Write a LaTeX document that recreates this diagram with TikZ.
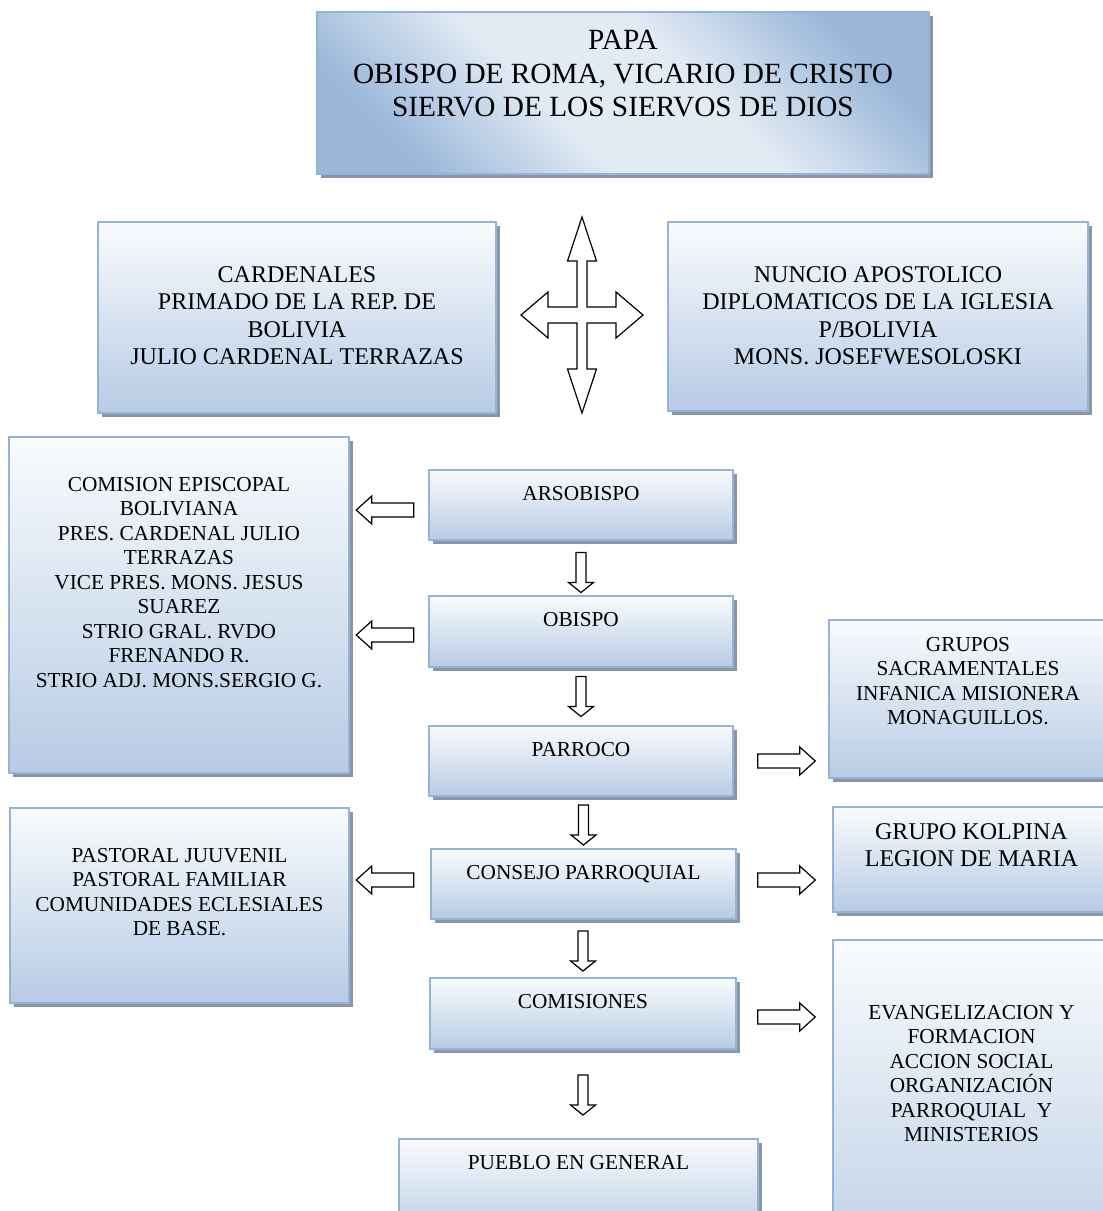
\documentclass[tikz,border=0pt]{standalone}
\usepackage{fontspec}
\setmainfont{Liberation Serif}
\usetikzlibrary{shadows,calc}
\definecolor{bordc}{RGB}{149,179,215}
\definecolor{topc}{RGB}{249,251,253}
\definecolor{botc}{RGB}{183,203,228}
\definecolor{shadc}{RGB}{138,150,168}
\definecolor{pdark}{RGB}{155,184,218}
\definecolor{plight}{RGB}{226,234,244}
\pgfdeclarehorizontalshading{papash}{100bp}{color(0bp)=(pdark); color(25bp)=(pdark); color(42bp)=(plight); color(58bp)=(plight); color(75bp)=(pdark); color(100bp)=(pdark)}
\begin{document}
\begin{tikzpicture}[x=1pt,y=-1pt,
  shad/.style={drop shadow={shadow xshift=4pt, shadow yshift=-4pt, fill=shadc, opacity=1}},
  box/.style={draw=bordc, line width=2pt, top color=topc, bottom color=botc, inner sep=0pt, shad},
  papabox/.style={draw=bordc, line width=2pt, shade, shading=papash, shading angle=45, inner sep=0pt, shad},
  txt/.style={anchor=north, inner sep=0pt, align=center, text=black},
  fA/.style={font=\fontsize{29.3}{33.6}\selectfont},
  fB/.style={font=\fontsize{24}{27.6}\selectfont},
  fC/.style={font=\fontsize{21.3}{24.5}\selectfont},
  blk/.style={draw=black, fill=white, line width=1.2pt, line join=miter},
  pics/harrow/.style={code={\draw[blk] (-28.75,-7) -- (13.25,-7) -- (13.25,-14) -- (28.75,0) -- (13.25,14) -- (13.25,7) -- (-28.75,7) -- cycle;}},
  pics/varrow/.style={code={\draw[blk] (-20,-5) -- (10,-5) -- (10,-12.5) -- (20,0) -- (10,12.5) -- (10,5) -- (-20,5) -- cycle;}}
]
\useasboundingbox (0,0) rectangle (1103,1211);
\clip (0,0) rectangle (1103,1211);

% boxes
\node[papabox, minimum width=612, minimum height=162] (papa) at (623,93) {};
\node[box, minimum width=398, minimum height=191] (card) at (297,317.5) {};
\node[box, minimum width=420, minimum height=189] (nunc) at (878,316.5) {};
\node[box, minimum width=340, minimum height=336] (cepi) at (179,605) {};
\node[box, minimum width=304, minimum height=70] (arso) at (581,505) {};
\node[box, minimum width=304, minimum height=71] (obis) at (581,631.5) {};
\node[box, minimum width=304, minimum height=70] (parr) at (581,761) {};
\node[box, minimum width=305, minimum height=70] (cons) at (583.5,884) {};
\node[box, minimum width=306, minimum height=71] (comi) at (583,1013.5) {};
\node[box, minimum width=359, minimum height=101] (pueb) at (578.5,1189.5) {};
\node[box, minimum width=278, minimum height=158] (grup) at (968,699) {};
\node[box, minimum width=277, minimum height=105] (kolp) at (971.5,859.5) {};
\node[box, minimum width=277, minimum height=360] (evan) at (971.5,1120) {};
\node[box, minimum width=339, minimum height=195] (past) at (179.5,905.5) {};

% texts
\node[txt, fA] (t-papa) at ($(papa.north)+(0,19)$) {PAPA\\OBISPO DE ROMA, VICARIO DE CRISTO\\SIERVO DE LOS SIERVOS DE DIOS};
\node[txt, fB] (t-card) at ($(card.north)+(0,45)$) {CARDENALES\\PRIMADO DE LA REP. DE\\BOLIVIA\\JULIO CARDENAL TERRAZAS};
\node[txt, fB] (t-nunc) at ($(nunc.north)+(0,45)$) {NUNCIO APOSTOLICO\\DIPLOMATICOS DE LA IGLESIA\\P/BOLIVIA\\MONS. JOSEFWESOLOSKI};
\node[txt, fC] (t-cepi) at ($(cepi.north)+(0,41)$) {COMISION EPISCOPAL\\BOLIVIANA\\PRES. CARDENAL JULIO\\TERRAZAS\\VICE PRES. MONS. JESUS\\SUAREZ\\STRIO GRAL. RVDO\\FRENANDO R.\\STRIO ADJ. MONS.SERGIO G.};
\node[txt, fC] (t-arso) at ($(arso.north)+(0,17)$) {ARSOBISPO};
\node[txt, fC] (t-obis) at ($(obis.north)+(0,17)$) {OBISPO};
\node[txt, fC] (t-parr) at ($(parr.north)+(0,17)$) {PARROCO};
\node[txt, fC] (t-cons) at ($(cons.north)+(0,17)$) {CONSEJO PARROQUIAL};
\node[txt, fC] (t-comi) at ($(comi.north)+(0,17)$) {COMISIONES};
\node[txt, fC] (t-pueb) at ($(pueb.north)+(0,17)$) {PUEBLO EN GENERAL};
\node[txt, fC] (t-grup) at ($(grup.north)+(0,18)$) {GRUPOS\\SACRAMENTALES\\INFANICA MISIONERA\\MONAGUILLOS.};
\node[txt, fB] (t-kolp) at ($(kolp.north)+(0,17)$) {GRUPO KOLPINA\\LEGION DE MARIA};
\node[txt, fC] (t-evan) at ($(evan.north)+(0,66)$) {EVANGELIZACION Y\\FORMACION\\ACCION SOCIAL\\ORGANIZACIÓN\\PARROQUIAL~~Y\\MINISTERIOS};
\node[txt, fC] (t-past) at ($(past.north)+(0,41)$) {PASTORAL JUUVENIL\\PASTORAL FAMILIAR\\COMUNIDADES ECLESIALES\\DE BASE.};

% four-way arrow
\coordinate (qc) at ($(card.east)!0.5!(nunc.west)+(0,-2)$);
\draw[blk, shift={(qc)}] (0,-98) -- (14.5,-54) -- (5,-54) -- (5,-8) -- (34,-8) -- (34,-23) -- (61,0) -- (34,23) -- (34,8) -- (5,8) -- (5,54) -- (14.5,54) -- (0,98) -- (-14.5,54) -- (-5,54) -- (-5,8) -- (-34,8) -- (-34,23) -- (-61,0) -- (-34,-23) -- (-34,-8) -- (-5,-8) -- (-5,-54) -- (-14.5,-54) -- cycle;

% vertical block arrows
\pic[rotate=-90] at ($(obis.north)+(0,-22.5)$) {varrow};
\pic[rotate=-90] at ($(parr.north)+(0,-28.5)$) {varrow};
\pic[rotate=-90] at ($(cons.north)+(0,-23)$) {varrow};
\pic[rotate=-90] at ($(comi.north)+(0,-26)$) {varrow};
\pic[rotate=-90] at ($(pueb.north)+(4.5,-43)$) {varrow};

% horizontal block arrows
\pic[rotate=180] at ($(arso.west)+(-43,5)$) {harrow};
\pic[rotate=180] at ($(obis.west)+(-43,3.5)$) {harrow};
\pic[rotate=180] at ($(cons.west)+(-45,-4)$) {harrow};
\pic at ($(parr.east)+(52.5,0)$) {harrow};
\pic at ($(cons.east)+(49.5,-4)$) {harrow};
\pic at ($(comi.east)+(49.5,3.5)$) {harrow};
\end{tikzpicture}
\end{document}
